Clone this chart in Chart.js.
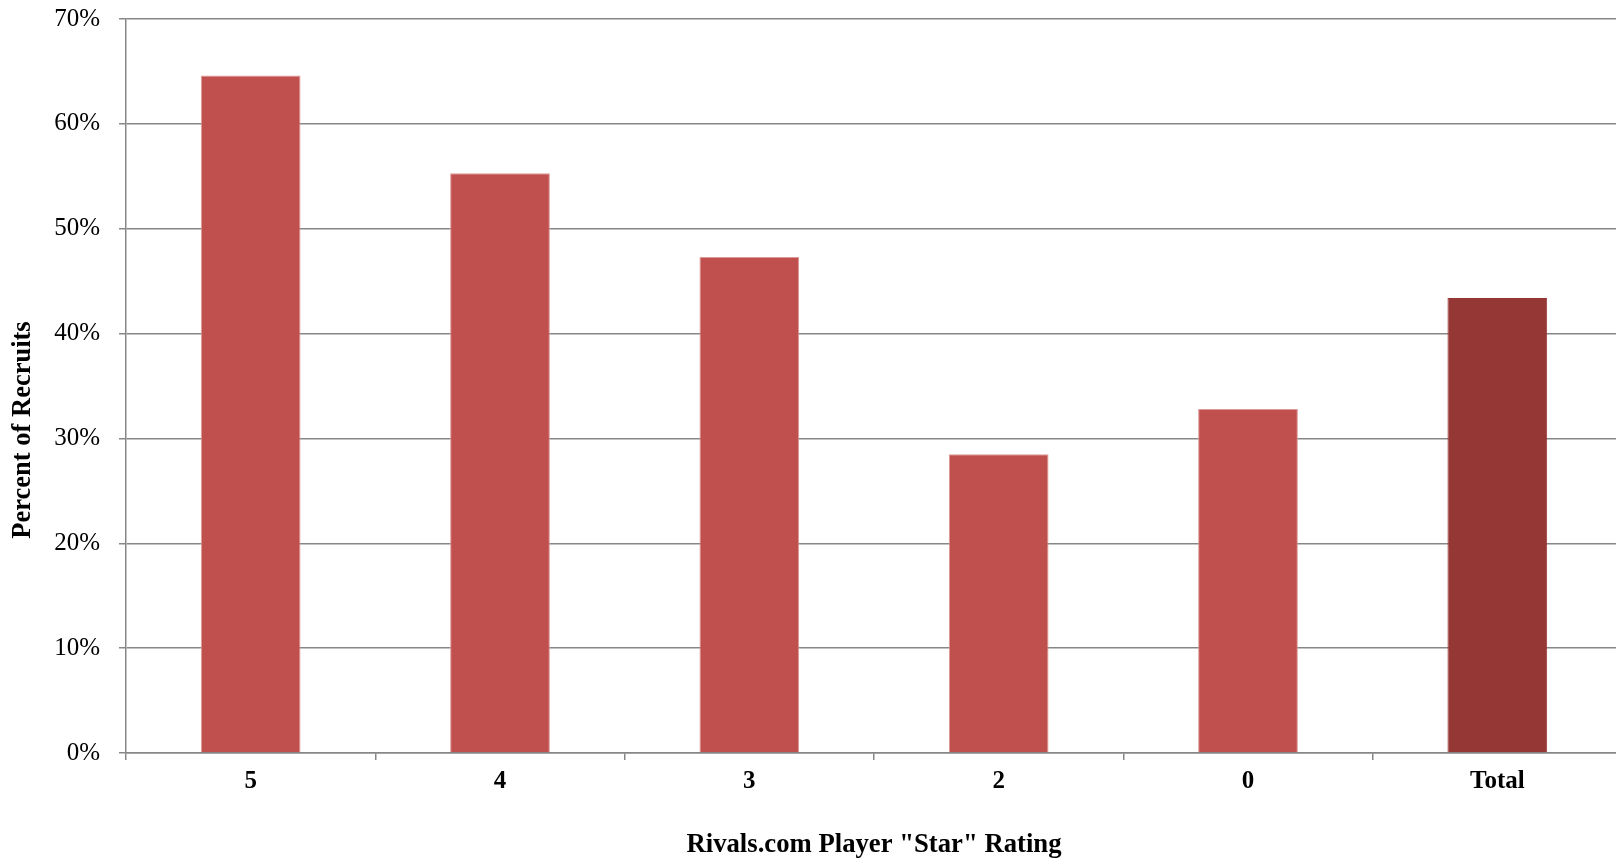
<!DOCTYPE html>
<html>
<head>
<meta charset="utf-8">
<script src="https://cdn.jsdelivr.net/npm/chart.js@4"></script>
<style>
  html, body { margin: 0; padding: 0; background: #fff; overflow: hidden; }
  #wrap { width: 1622px; height: 861px; position: relative; }
</style>
</head>
<body>
<div id="wrap"><canvas id="c"></canvas></div>
<script>
// Rivals.com star rating groups and share of recruits (%)
const categories = ['5', '4', '3', '2', '0', 'Total'];
const percentValues = [64.6, 55.3, 47.3, 28.5, 32.8, 43.4];
const yTickValues = [0, 10, 20, 30, 40, 50, 60, 70];
const yAxisTitle = 'Percent of Recruits';
const xAxisTitle = 'Rivals.com Player "Star" Rating';

const barRed = '#C0504D';
const barDarkRed = '#953735';
const gridGrey = '#878787';

const fillColors = categories.map(c => c === 'Total' ? barDarkRed : barRed);
const edgeColors = categories.map(c => c === 'Total' ? barDarkRed : '#DE9A98');

const serif = '"Liberation Serif", "Times New Roman", serif';

// Vertical axis title, set a little below the middle of the plot area
const yTitlePlugin = {
  id: 'yTitle',
  afterDraw(chart) {
    const ctx = chart.ctx;
    const area = chart.chartArea;
    ctx.save();
    ctx.translate(23, (area.top + area.bottom) / 2 + 44);
    ctx.rotate(-Math.PI / 2);
    ctx.font = 'bold 26.5px ' + serif;
    ctx.fillStyle = '#000';
    ctx.textAlign = 'center';
    ctx.textBaseline = 'middle';
    ctx.fillText(yAxisTitle, 0, 0);
    ctx.restore();
  }
};

new Chart(document.getElementById('c'), {
  type: 'bar',
  data: {
    labels: categories,
    datasets: [{
      data: percentValues,
      backgroundColor: fillColors,
      borderColor: edgeColors,
      borderWidth: { left: 1, right: 1, top: 1, bottom: 0 },
      barPercentage: 0.4,
      categoryPercentage: 1.0
    }]
  },
  plugins: [yTitlePlugin],
  options: {
    responsive: true,
    maintainAspectRatio: false,
    animation: false,
    layout: { padding: { top: 19, right: 0, bottom: 0, left: 0 } },
    plugins: {
      legend: { display: false },
      tooltip: { enabled: false }
    },
    scales: {
      x: {
        afterFit: s => { s.height = 108; },
        grid: {
          display: true,
          drawOnChartArea: false,
          drawTicks: true,
          tickLength: 7,
          color: gridGrey,
          lineWidth: 1.5,
          offset: true
        },
        border: { display: true, color: gridGrey, width: 1.5 },
        ticks: {
          color: '#000',
          padding: 7,
          font: { family: serif, size: 25, weight: 'bold' }
        },
        title: {
          display: true,
          text: xAxisTitle,
          color: '#000',
          padding: { top: 0, bottom: 0 },
          font: { family: serif, size: 26.7, weight: 'bold' }
        }
      },
      y: {
        min: 0,
        max: 70,
        afterFit: s => {
          s.width = 126;
          // the tick gap should not push the plot area down
          s.paddingTop = 0;
          s.paddingBottom = 0;
        },
        afterBuildTicks: s => { s.ticks = yTickValues.map(v => ({ value: v })); },
        grid: {
          color: gridGrey,
          lineWidth: 1.5,
          drawTicks: true,
          tickLength: 7
        },
        border: { display: true, color: gridGrey, width: 1.5 },
        ticks: {
          color: '#000',
          padding: 19,
          font: { family: serif, size: 25 },
          callback: v => v + '%'
        },
        title: { display: false }
      }
    }
  }
});
</script>
</body>
</html>
